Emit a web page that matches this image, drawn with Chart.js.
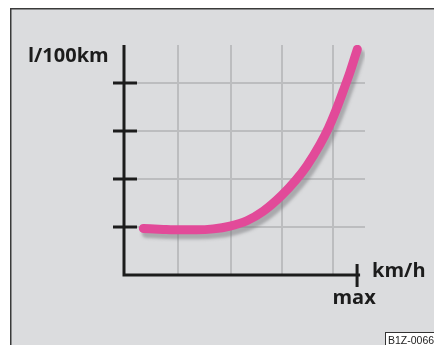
<!DOCTYPE html>
<html>
<head>
<meta charset="utf-8">
<script src="https://cdn.jsdelivr.net/npm/chart.js@4"></script>
<style>
html,body{margin:0;padding:0;background:#fff;}
canvas{display:block;}
</style>
</head>
<body>
<canvas id="c" width="434" height="345"></canvas>
<script>
// Data (x: % of max speed, y: relative consumption in tick units)
const speedPct    = [8.3, 16.9, 24.0, 31.2, 38.3, 45.5, 52.7, 59.8, 67.7, 73.8, 78.4, 84.1, 87.7, 90.6, 94.1, 97.0, 100.1];
const consumption = [0.97, 0.95, 0.94, 0.94, 0.96, 1.02, 1.13, 1.33, 1.66, 1.98, 2.27, 2.72, 3.06, 3.39, 3.84, 4.23, 4.70];
const gridX = [23.0, 45.8, 67.7, 89.6];
const gridY = [1, 2, 3, 4];
const maxSpeed = 100;
const yLabel = 'l/100km';
const xLabel = 'km/h';
const maxLabel = 'max';
const codeLabel = 'B1Z-0066';

const mkPoints = () => speedPct.map((x, i) => ({x: x, y: consumption[i]}));

const frame = {
  id: 'frame',
  beforeDraw(chart) {
    const ctx = chart.ctx;
    ctx.save();
    ctx.fillStyle = '#ffffff';
    ctx.fillRect(0, 0, 434, 345);
    ctx.fillStyle = '#dbdcde';
    ctx.fillRect(11, 9, 423, 336);
    ctx.fillStyle = '#3a3a3a';
    ctx.fillRect(10, 8, 424, 1.5);
    ctx.fillRect(10, 8, 1.5, 337);
    ctx.restore();
  },
  beforeDatasetsDraw(chart) {
    const ctx = chart.ctx;
    const xs = chart.scales.x, ys = chart.scales.y;
    const x0 = xs.getPixelForValue(0), y0 = ys.getPixelForValue(0);
    const xm = xs.getPixelForValue(maxSpeed);
    const yTop = chart.chartArea.top;
    ctx.save();
    ctx.strokeStyle = '#1c1c1c';
    ctx.lineWidth = 3;
    ctx.lineCap = 'butt';
    ctx.beginPath();
    ctx.moveTo(x0, yTop);
    ctx.lineTo(x0, y0 + 1.5);
    ctx.moveTo(x0 - 1.5, y0);
    ctx.lineTo(xm + 3, y0);
    ctx.stroke();
    ctx.beginPath();
    gridY.forEach(v => {
      const y = ys.getPixelForValue(v);
      ctx.moveTo(x0 - 11, y);
      ctx.lineTo(x0 + 13, y);
    });
    ctx.moveTo(xm, y0 - 11);
    ctx.lineTo(xm, y0 + 12);
    ctx.stroke();
    ctx.fillStyle = '#1c1c1c';
    ctx.font = 'bold 20px "Open Sans", "Liberation Sans", sans-serif';
    ctx.textBaseline = 'alphabetic';
    ctx.textAlign = 'left';
    ctx.fillText(yLabel, 28, yTop + 17);
    ctx.fillText(xLabel, xm + 15, y0 + 2);
    ctx.textAlign = 'center';
    ctx.fillText(maxLabel, xm - 3, y0 + 29);
    ctx.restore();
  },
  beforeDatasetDraw(chart, args) {
    if (args.index === 0) {
      const ctx = chart.ctx;
      ctx.save();
      ctx.shadowColor = 'rgba(120,120,124,0.5)';
      ctx.shadowOffsetX = 3;
      ctx.shadowOffsetY = 5;
      ctx.shadowBlur = 3;
    }
  },
  afterDatasetDraw(chart, args) {
    if (args.index === 0) chart.ctx.restore();
  },
  afterDraw(chart) {
    const ctx = chart.ctx;
    ctx.save();
    ctx.fillStyle = '#ffffff';
    ctx.fillRect(385, 332, 49, 13);
    ctx.strokeStyle = '#333';
    ctx.lineWidth = 1;
    ctx.strokeRect(385.5, 332.5, 49, 13);
    ctx.fillStyle = '#222';
    ctx.font = '10.5px "Liberation Sans", Arial, sans-serif';
    ctx.textAlign = 'left';
    ctx.textBaseline = 'alphabetic';
    ctx.fillText(codeLabel, 388, 343.5);
    ctx.restore();
  }
};

new Chart(document.getElementById('c'), {
  type: 'line',
  data: {
    datasets: [
      {data: mkPoints(), borderColor: '#e24a99', borderWidth: 9, pointRadius: 0, tension: 0.4,
       cubicInterpolationMode: 'monotone', borderCapStyle: 'round', borderJoinStyle: 'round', fill: false},
      {data: mkPoints(), borderColor: '#f26eb2', borderWidth: 4.5, pointRadius: 0, tension: 0.4,
       cubicInterpolationMode: 'monotone', borderCapStyle: 'round', borderJoinStyle: 'round', fill: false}
    ]
  },
  options: {
    responsive: false,
    animation: false,
    devicePixelRatio: 1,
    layout: {padding: {left: 124, right: 69, top: 45, bottom: 70}},
    plugins: {legend: {display: false}, tooltip: {enabled: false}},
    scales: {
      x: {
        type: 'linear', min: 0, max: 103.4,
        afterBuildTicks: s => { s.ticks = gridX.map(v => ({value: v})); },
        ticks: {display: false},
        grid: {color: '#bcbdbf', lineWidth: 2, drawTicks: false},
        border: {display: false}
      },
      y: {
        type: 'linear', min: 0, max: 4.79,
        afterBuildTicks: s => { s.ticks = gridY.map(v => ({value: v})); },
        ticks: {display: false},
        grid: {color: '#bcbdbf', lineWidth: 2, drawTicks: false},
        border: {display: false}
      }
    }
  },
  plugins: [frame]
});
</script>
</body>
</html>
